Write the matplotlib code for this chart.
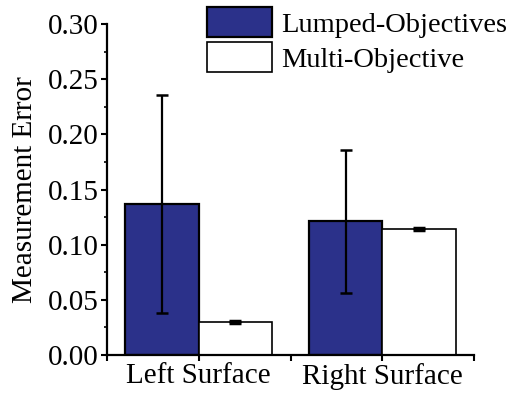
import numpy as np
import matplotlib
matplotlib.use("Agg")
import matplotlib.pyplot as plt
from matplotlib.ticker import MultipleLocator, FixedLocator

plt.rcParams["font.family"] = ["Liberation Serif", "DejaVu Serif"]

categories = ["Left Surface", "Right Surface"]
lumped_mean = [0.137, 0.121]
lumped_err = [0.099, 0.065]
multi_mean = [0.030, 0.114]
multi_err = [0.001, 0.001]

navy = "#2b318a"
width = 0.4
x = np.arange(len(categories))
fs = 21

fig = plt.figure(figsize=(5.17, 3.98), dpi=100)
ax = fig.add_axes([107 / 517, 1 - 355 / 398, (474 - 107) / 517, (355 - 24) / 398])

ax.bar(x - width / 2, lumped_mean, width, color=navy, edgecolor="black",
       linewidth=1.6, label="Lumped-Objectives", zorder=2)
ax.bar(x + width / 2, multi_mean, width, color="white", edgecolor="black",
       linewidth=1.2, label="Multi-Objective", zorder=2)
ax.errorbar(x - width / 2, lumped_mean, yerr=lumped_err, fmt="none",
            ecolor="black", elinewidth=1.6, capsize=4.5, capthick=1.8, zorder=3)
ax.errorbar(x + width / 2, multi_mean, yerr=multi_err, fmt="none",
            ecolor="black", elinewidth=1.6, capsize=4.5, capthick=2.5, zorder=3)

ax.set_xlim(-0.5, 1.5)
ax.set_ylim(0, 0.30)
ax.set_xticks(x)
ax.set_xticklabels(categories, fontsize=fs)
ax.xaxis.set_minor_locator(FixedLocator([-0.5, 0.5, 1.5]))
ax.set_yticks(np.arange(0, 0.31, 0.05))
ax.set_yticklabels([f"{v:.2f}" for v in np.arange(0, 0.31, 0.05)], fontsize=fs)
ax.yaxis.set_minor_locator(MultipleLocator(0.025))
ax.set_ylabel("Measurement Error", fontsize=fs, labelpad=7)

ax.tick_params(axis="both", which="major", direction="out", length=4, width=1.5, pad=2)
ax.tick_params(axis="y", which="minor", direction="out", length=2.5, width=1.2)
ax.tick_params(axis="x", which="minor", direction="out", length=4, width=1.5)

for side in ["top", "right"]:
    ax.spines[side].set_visible(False)
for side in ["left", "bottom"]:
    ax.spines[side].set_linewidth(1.6)

fig.legend(loc="upper left", bbox_to_anchor=(207 / 517, 1 - 7 / 398),
           frameon=False, fontsize=20.5, handlelength=2.3, handleheight=1.25,
           handletextpad=0.3, labelspacing=0.15, borderpad=0, borderaxespad=0)

fig.savefig("out.png", dpi=100)
